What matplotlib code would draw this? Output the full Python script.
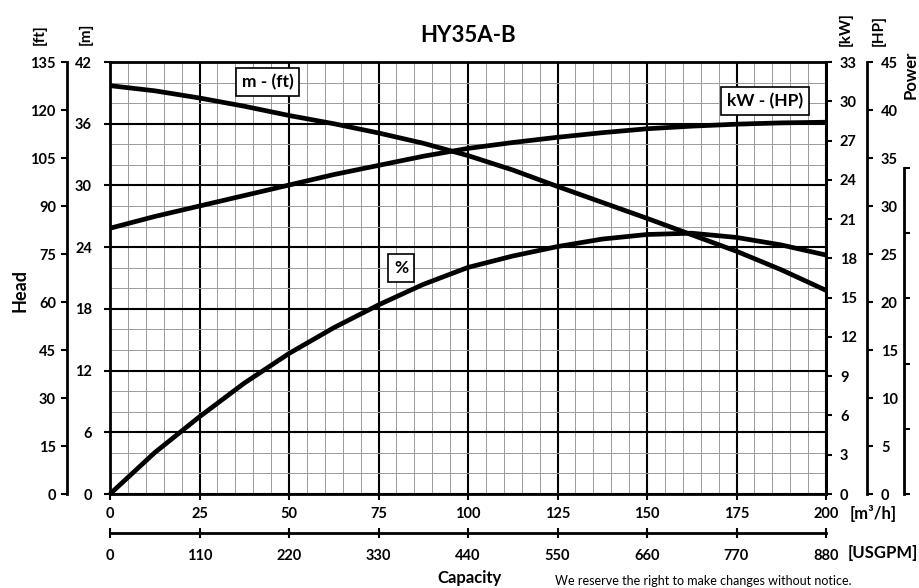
import matplotlib
matplotlib.use("Agg")
import matplotlib.pyplot as plt
from matplotlib.ticker import MultipleLocator, NullFormatter

plt.rcParams["font.family"] = ["Lato", "DejaVu Sans"]
plt.rcParams["font.weight"] = "bold"

# capacity in m3/h
flow = [0, 12.5, 25, 37.5, 50, 62.5, 75, 87.5, 100, 112.5, 125, 137.5, 150, 162.5, 175, 187.5, 200]
head_m = [39.7, 39.2, 38.5, 37.7, 36.8, 36.0, 35.1, 34.1, 32.9, 31.5, 29.9, 28.35, 26.8, 25.2, 23.6, 21.8, 19.8]
power_kw = [20.3, 21.2, 22.0, 22.8, 23.6, 24.4, 25.1, 25.8, 26.4, 26.85, 27.25, 27.6, 27.9, 28.1, 28.25, 28.35, 28.4]
eff_pct = [0, 12.7, 23.7, 34.0, 43.1, 51.0, 58.0, 64.3, 69.5, 73.0, 75.9, 78.2, 79.6, 80.0, 78.7, 76.4, 73.3]

m3h_ticks = [0, 25, 50, 75, 100, 125, 150, 175, 200]
usgpm_ticks = [0, 110, 220, 330, 440, 550, 660, 770, 880]
m_ticks = [0, 6, 12, 18, 24, 30, 36, 42]
ft_ticks = [0, 15, 30, 45, 60, 75, 90, 105, 120, 135]
kw_ticks = [0, 3, 6, 9, 12, 15, 18, 21, 24, 27, 30, 33]
hp_ticks = [0, 5, 10, 15, 20, 25, 30, 35, 40, 45]
eff_ticks = [0, 20, 40, 60, 80, 100]

W, H = 919, 588
fig = plt.figure(figsize=(W / 100, H / 100), dpi=100)
L, R, T, B = 110, 826, 62, 494
ax = fig.add_axes([L / W, 1 - B / H, (R - L) / W, (B - T) / H])

FS = 10.5
ax.set_xlim(0, 200)
ax.set_ylim(0, 42)
ax.set_xticks(m3h_ticks)
ax.set_yticks(m_ticks)
ax.xaxis.set_minor_locator(MultipleLocator(5))
ax.yaxis.set_minor_locator(MultipleLocator(2))
ax.grid(which="major", color="black", linewidth=1.5)
ax.grid(which="minor", color="#9a9a9a", linewidth=0.7)
ax.set_axisbelow(True)
ax.tick_params(which="major", direction="out", length=4, width=1.5, labelsize=FS, pad=5)
ax.tick_params(axis="y", pad=9)
ax.tick_params(which="minor", length=0)
for s in ax.spines.values():
    s.set_linewidth(2)

# head in feet
ax_ft = ax.twinx()
ax_ft.yaxis.set_ticks_position("left")
ax_ft.yaxis.set_label_position("left")
ax_ft.spines["left"].set_position(("axes", (67 - L) / (R - L)))
ax_ft.spines["left"].set_linewidth(2)
for k in ("right", "top", "bottom"):
    ax_ft.spines[k].set_visible(False)
ax_ft.set_ylim(0, 135)
ax_ft.set_yticks(ft_ticks)
ax_ft.tick_params(direction="out", length=4, width=1.5, labelsize=FS, pad=4)

# power kW
ax_kw = ax.twinx()
ax_kw.set_ylim(0, 33)
ax_kw.set_yticks(kw_ticks)
for k in ("left", "top", "bottom"):
    ax_kw.spines[k].set_visible(False)
ax_kw.spines["right"].set_linewidth(2)
ax_kw.tick_params(direction="out", length=4, width=1.5, labelsize=FS, pad=6)

# power HP
ax_hp = ax.twinx()
ax_hp.set_ylim(0, 45)
ax_hp.set_yticks(hp_ticks)
ax_hp.spines["right"].set_position(("axes", (867 - L) / (R - L)))
ax_hp.spines["right"].set_linewidth(2)
for k in ("left", "top", "bottom"):
    ax_hp.spines[k].set_visible(False)
ax_hp.tick_params(direction="out", length=4, width=1.5, labelsize=FS, pad=6)

# efficiency, labels cut off at the image edge
ax_eff = ax.twinx()
ax_eff.set_ylim(0, 100 * (B - T) / (B - 168))
ax_eff.set_yticks(eff_ticks)
ax_eff.yaxis.set_major_formatter(NullFormatter())
ax_eff.spines["right"].set_position(("axes", (904 - L) / (R - L)))
ax_eff.spines["right"].set_bounds(0, 100)
ax_eff.spines["right"].set_linewidth(2)
for k in ("left", "top", "bottom"):
    ax_eff.spines[k].set_visible(False)
ax_eff.tick_params(direction="out", length=4, width=1.5)

lw = 3.4
style = dict(color="black", linewidth=lw, solid_capstyle="butt", solid_joinstyle="round", clip_on=False)
ax_kw.plot(flow, power_kw, **style)
ax_eff.plot(flow, eff_pct, **style)
ax.plot(flow, head_m, zorder=3, **style)

box = dict(boxstyle="square,pad=0.35", fc="white", ec="black", lw=1.2)
ax_eff.text(44, 40.05, "m - (ft)", transform=ax.transData, ha="center", va="center", fontsize=12.5, bbox=box)
ax_eff.text(183, 38.2, "kW - (HP)", transform=ax.transData, ha="center", va="center", fontsize=12.5, bbox=box)
ax_eff.text(81.3, 22.0, "%", transform=ax.transData, ha="center", va="center", fontsize=12.5, bbox=box)

# USGPM axis
ax_us = fig.add_axes([L / W, 1 - 533 / H, (R - L) / W, 0.0001])
ax_us.set_xlim(0, 880)
ax_us.set_xticks(usgpm_ticks)
ax_us.set_yticks([])
for k in ("left", "right", "top"):
    ax_us.spines[k].set_visible(False)
ax_us.spines["bottom"].set_linewidth(2)
ax_us.patch.set_visible(False)
ax_us.tick_params(direction="inout", length=7, width=1.5, labelsize=FS, pad=8)

def ftxt(x, y, s, **kw):
    fig.text(x / W, 1 - y / H, s, ha="center", va="center", **kw)

ftxt(468, 36, "HY35A-B", fontsize=16)
ftxt(40, 35, "[ft]", fontsize=11, rotation=90)
ftxt(86, 34, "[m]", fontsize=11, rotation=90)
ftxt(846, 29, "[kW]", fontsize=11, rotation=90)
ftxt(879, 31, "[HP]", fontsize=11, rotation=90)
ftxt(911, 75, "Power", fontsize=12, rotation=90)
ftxt(20, 290, "Head", fontsize=13, rotation=90)
ftxt(470, 578, "Capacity", fontsize=12)
fig.text(850 / W, 1 - 513 / H, "[m³/h]", ha="left", va="center", fontsize=12)
fig.text(848 / W, 1 - 553 / H, "[USGPM]", ha="left", va="center", fontsize=12)
fig.text(555 / W, 1 - 587 / H, "We reserve the right to make changes without notice.",
         ha="left", va="bottom", fontsize=9, fontweight="normal")

fig.savefig("out.png", dpi=100)
